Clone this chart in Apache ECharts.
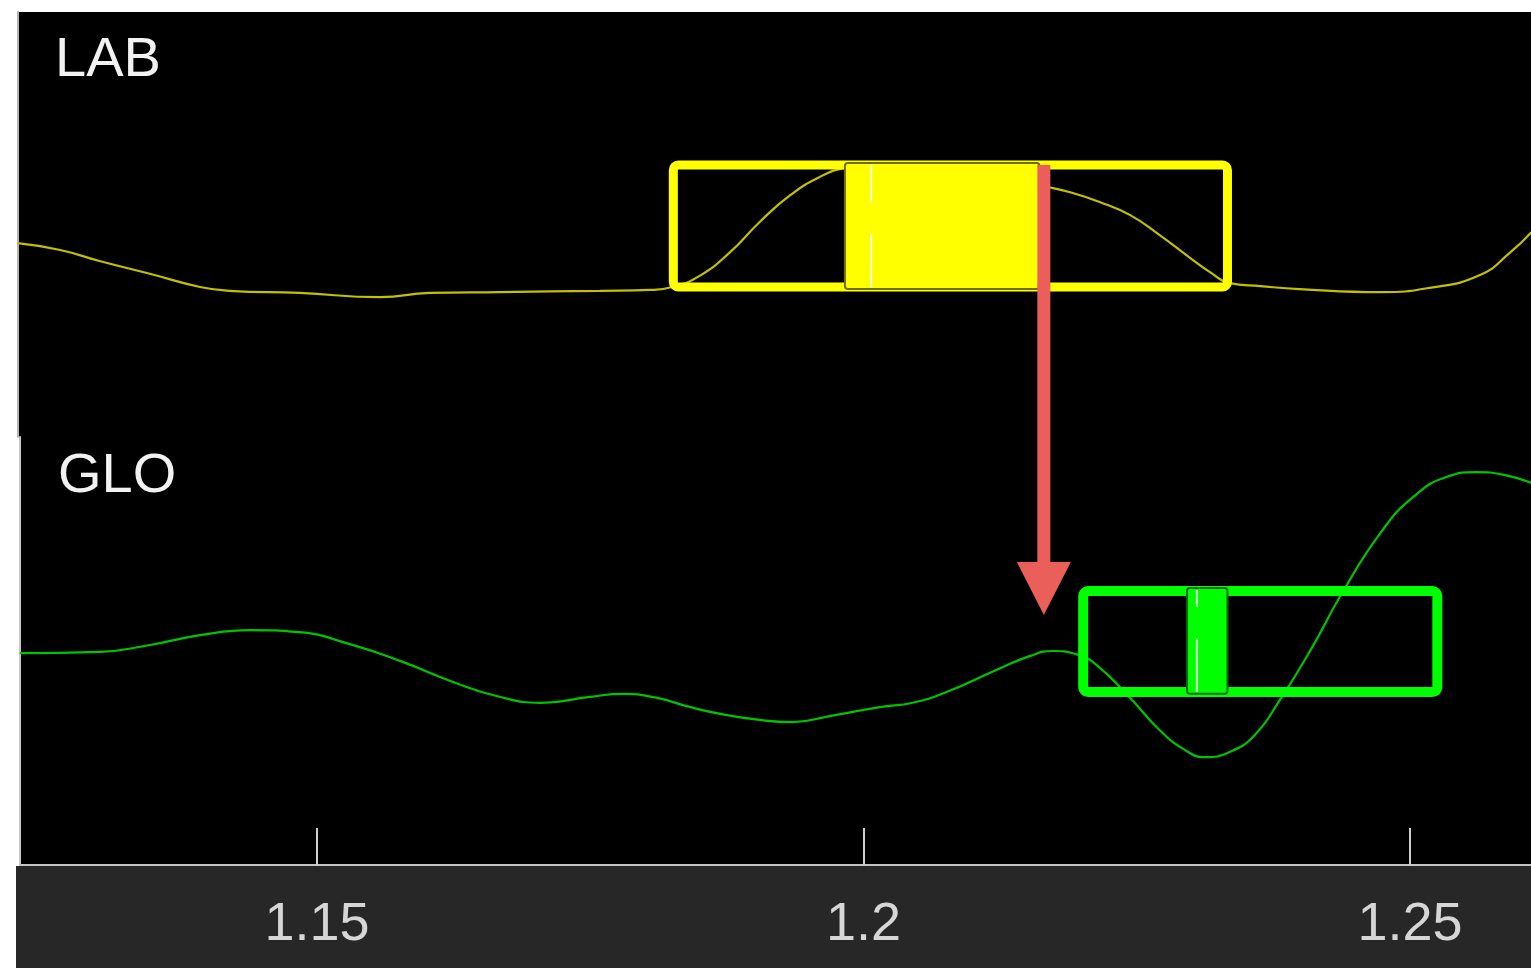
<!DOCTYPE html>
<html>
<head>
<meta charset="utf-8">
<script src="https://cdn.jsdelivr.net/npm/echarts@6/dist/echarts.min.js"></script>
<style>
  html, body { margin: 0; padding: 0; background: #ffffff; }
  #chart { width: 1531px; height: 968px; }
</style>
</head>
<body>
<div id="chart"></div>
<script>
// Density traces for the two panels (x = ratio, y = relative density, 0-100)
const labX = [1.1226, 1.1265, 1.1301, 1.1347, 1.1393, 1.1420, 1.1484, 1.1558, 1.1603, 1.1667,
              1.1759, 1.1805, 1.1825, 1.1850, 1.1878, 1.1905, 1.1933, 1.1960, 1.1983, 1.2015,
              1.2079, 1.2125, 1.2161, 1.2189, 1.2216, 1.2244, 1.2271, 1.2299, 1.2317, 1.2335,
              1.2363, 1.2399, 1.2473, 1.2518, 1.2564, 1.2592, 1.2611];
const labY = [45.6, 44.0, 41.4, 38.4, 35.3, 34.4, 33.9, 32.9, 33.9, 34.1,
              34.4, 34.6, 35.3, 37.9, 43.5, 50.6, 56.9, 61.2, 63.3, 64.2,
              63.8, 61.9, 59.3, 57.6, 55.3, 52.2, 47.5, 42.1, 38.8, 36.2,
              35.5, 34.8, 34.1, 35.1, 38.1, 43.5, 48.2];

const gloX = [1.1228, 1.1301, 1.1347, 1.1393, 1.1439, 1.1484, 1.1530, 1.1576, 1.1622, 1.1667,
              1.1705, 1.1750, 1.1780, 1.1810, 1.1840, 1.1869, 1.1905, 1.1935, 1.1969,
              1.2015, 1.2045, 1.2076, 1.2122, 1.2152, 1.2173, 1.2194, 1.2212, 1.2244, 1.2271,
              1.2294, 1.2312, 1.2335, 1.2358, 1.2381, 1.2409, 1.2438, 1.2473, 1.2503, 1.2534,
              1.2561, 1.2587, 1.2611];
const gloY = [49.5, 49.8, 51.4, 53.7, 54.9, 54.4, 51.6, 47.7, 43.0, 39.3,
              37.9, 39.3, 40.0, 39.1, 37.0, 35.3, 33.9, 33.4, 34.8,
              36.9, 37.9, 40.4, 45.6, 48.8, 50.0, 49.3, 47.0, 39.0, 31.5,
              26.9, 25.2, 26.4, 30.4, 38.6, 50.2, 63.6, 77.6, 86.0, 90.7,
              91.8, 91.1, 89.3];

// Full range, central interval and midpoint of each estimate
const labRange = [1.1826, 1.2333];
const labInterval = [1.1983, 1.2161];
const labMid = 1.2007;
const gloRange = [1.2201, 1.2525];
const gloInterval = [1.2296, 1.2333];
const gloMid = 1.2305;

// Shift from LAB to GLO
const shiftX = 1.2165;

const tickValues = [1.15, 1.2, 1.25];
const tickLabels = ['1.15', '1.2', '1.25'];
const panelNames = ['LAB', 'GLO'];

const FONT = '"Liberation Sans", Arial, Helvetica, sans-serif';

function pairs(xs, ys) {
  return xs.map((x, i) => [x, ys[i]]);
}

// Outer range box, filled interval box and dashed midpoint line
function boxRenderer(color, edgeColor, band, lineW) {
  return function (params, api) {
    const lo = api.value(0), hi = api.value(1);
    const ilo = api.value(2), ihi = api.value(3), mid = api.value(4);
    const a = api.coord([lo, band.outer[1]]);
    const b = api.coord([hi, band.outer[0]]);
    const c = api.coord([ilo, band.fill[1]]);
    const d = api.coord([ihi, band.fill[0]]);
    const m = api.coord([mid, band.fill[0]]);
    return {
      type: 'group',
      children: [
        {
          type: 'rect',
          shape: { x: a[0], y: a[1], width: b[0] - a[0], height: b[1] - a[1], r: 5 },
          style: { fill: null, stroke: color, lineWidth: lineW }
        },
        {
          type: 'rect',
          shape: { x: c[0], y: c[1], width: d[0] - c[0], height: d[1] - c[1], r: 3 },
          style: { fill: color, stroke: edgeColor, lineWidth: 2 }
        },
        {
          type: 'line',
          shape: { x1: m[0], y1: d[1] - 2, x2: m[0], y2: c[1] + 2 },
          style: { stroke: 'rgba(255,255,255,0.85)', lineWidth: 2, lineDash: [53, 32] }
        }
      ]
    };
  };
}

const chart = echarts.init(document.getElementById('chart'), null, { renderer: 'canvas' });

const xMax = 1.26107;

const option = {
  animation: false,
  backgroundColor: '#ffffff',
  grid: [
    { left: 18, right: 0, top: 12, height: 425, show: true, backgroundColor: '#000000', borderWidth: 0 },
    { left: 20, right: 0, top: 437, height: 428, show: true, backgroundColor: '#000000', borderWidth: 0 }
  ],
  xAxis: [
    {
      gridIndex: 0, type: 'value', min: 1.122644, max: xMax,
      axisLine: { show: false }, axisTick: { show: false }, axisLabel: { show: false },
      splitLine: { show: false }
    },
    {
      gridIndex: 1, type: 'value', min: 1.122827, max: xMax,
      axisLine: { show: true, onZero: false, lineStyle: { color: '#c4c4c4', width: 2 } },
      axisTick: {
        show: true, inside: true, length: 37, customValues: tickValues,
        lineStyle: { color: '#cfcfcf', width: 2 }
      },
      axisLabel: {
        show: true, customValues: tickValues, margin: 33,
        color: '#d6d6d6', fontSize: 54, fontFamily: FONT,
        formatter: function (v) {
          const i = tickValues.findIndex(t => Math.abs(t - v) < 1e-9);
          return i >= 0 ? tickLabels[i] : '';
        }
      },
      splitLine: { show: false }
    }
  ],
  yAxis: [
    {
      gridIndex: 0, type: 'value', min: 0, max: 100,
      axisLine: { show: true, lineStyle: { color: '#b4b4b4', width: 2 } },
      axisTick: { show: false }, axisLabel: { show: false }, splitLine: { show: false }
    },
    {
      gridIndex: 1, type: 'value', min: 0, max: 100,
      axisLine: { show: true, lineStyle: { color: '#c8c8c8', width: 2 } },
      axisTick: { show: false }, axisLabel: { show: false }, splitLine: { show: false }
    }
  ],
  series: [
    {
      name: 'LAB density', type: 'line', xAxisIndex: 0, yAxisIndex: 0,
      data: pairs(labX, labY), smooth: 0.5, showSymbol: false, z: 2,
      lineStyle: { color: '#c2c000', width: 2.2 }
    },
    {
      name: 'GLO density', type: 'line', xAxisIndex: 1, yAxisIndex: 1,
      data: pairs(gloX, gloY), smooth: 0.5, showSymbol: false, z: 2,
      lineStyle: { color: '#00c400', width: 2.2 }
    },
    {
      name: 'LAB estimate', type: 'custom', xAxisIndex: 0, yAxisIndex: 0, z: 3,
      renderItem: boxRenderer('#ffff00', '#6e6e00', { outer: [35.3, 64.0], fill: [34.8, 64.5] }, 9),
      data: [[labRange[0], labRange[1], labInterval[0], labInterval[1], labMid]]
    },
    {
      name: 'GLO estimate', type: 'custom', xAxisIndex: 1, yAxisIndex: 1, z: 3,
      renderItem: boxRenderer('#00ff00', '#006a00', { outer: [40.4, 64.0], fill: [40.0, 64.7] }, 10),
      data: [[gloRange[0], gloRange[1], gloInterval[0], gloInterval[1], gloMid]]
    }
  ]
};

chart.setOption(option);

// Arrow from the LAB interval down into the GLO panel
const p0 = chart.convertToPixel({ gridIndex: 0 }, [shiftX, 64.0]);
const p1 = chart.convertToPixel({ gridIndex: 1 }, [shiftX, 58.4]);
const shaftHalf = 6.5, headHalf = 27, headLen = 53;
const ax = p0[0];
const arrowPoints = [
  [ax - shaftHalf, p0[1]], [ax + shaftHalf, p0[1]],
  [ax + shaftHalf, p1[1] - headLen], [ax + headHalf, p1[1] - headLen],
  [ax, p1[1]],
  [ax - headHalf, p1[1] - headLen], [ax - shaftHalf, p1[1] - headLen]
];

chart.setOption({
  graphic: [
    {
      type: 'rect', z: -1, silent: true,
      shape: { x: 16, y: 866, width: 1515, height: 102 },
      style: { fill: '#272727' }
    },
    {
      type: 'text', z: 10, x: 55, y: 61,
      style: { text: panelNames[0], fill: '#f2f2f2', fontSize: 56, fontFamily: FONT, verticalAlign: 'middle', align: 'left' }
    },
    {
      type: 'text', z: 10, x: 58, y: 477,
      style: { text: panelNames[1], fill: '#f2f2f2', fontSize: 56, fontFamily: FONT, verticalAlign: 'middle', align: 'left' }
    },
    {
      type: 'polygon', z: 10, silent: true,
      shape: { points: arrowPoints },
      style: { fill: '#ea5f5a' }
    }
  ]
});
</script>
</body>
</html>
